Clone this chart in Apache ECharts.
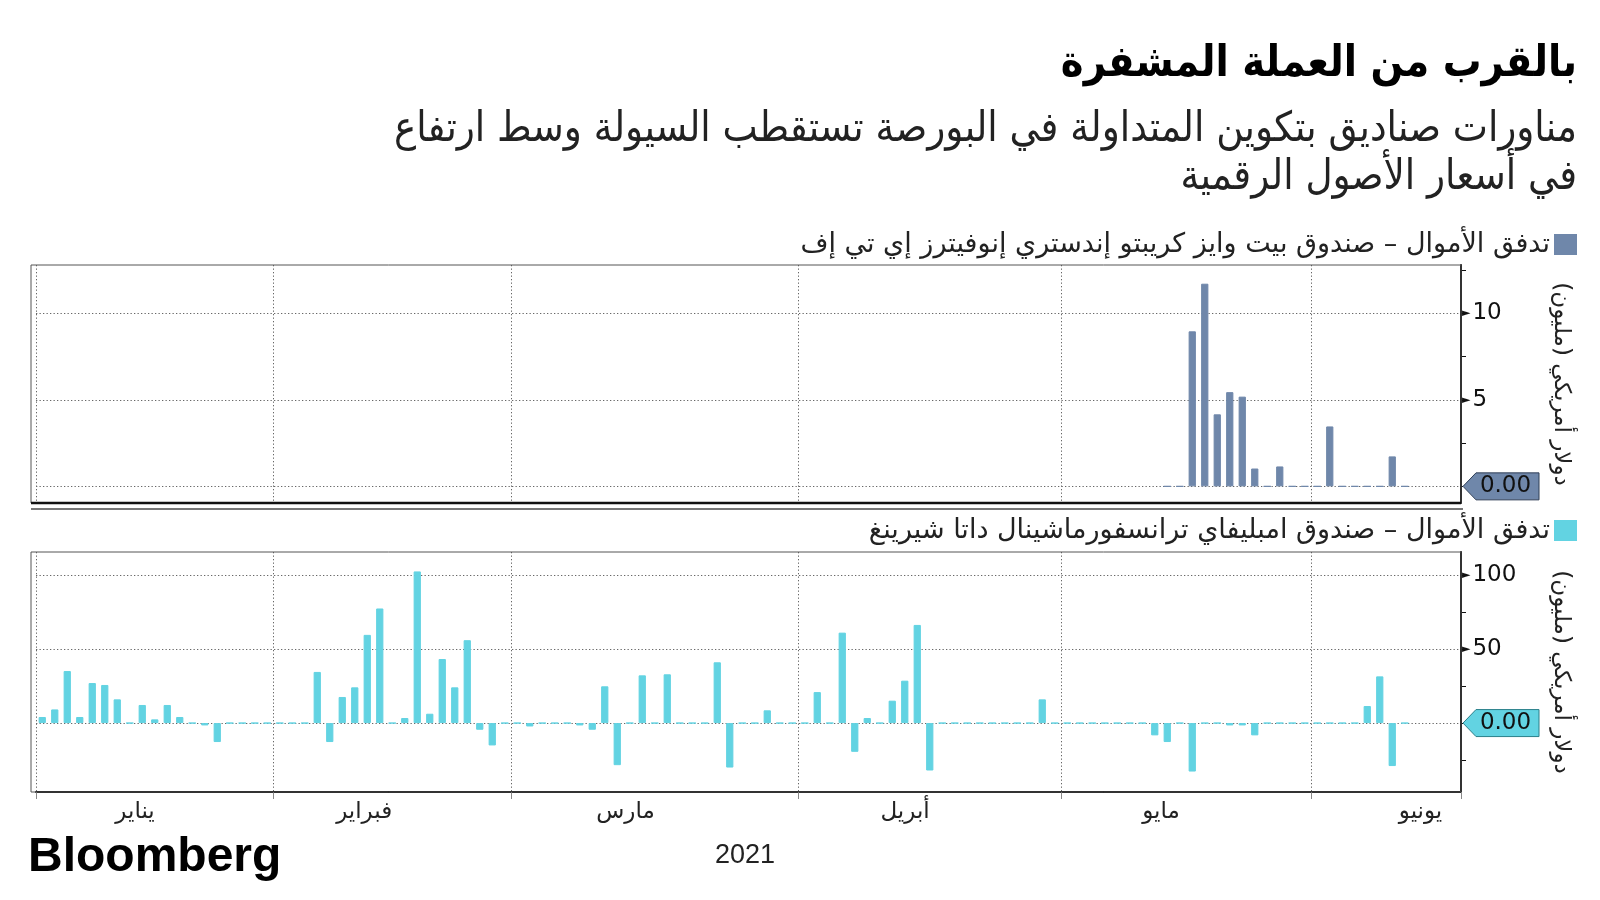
<!DOCTYPE html>
<html dir="rtl">
<head>
<meta charset="utf-8">
<script src="https://cdn.jsdelivr.net/npm/echarts@6/dist/echarts.min.js"></script>
<style>html,body{margin:0;padding:0;background:#fff}#c{width:1600px;height:900px}</style>
</head>
<body>
<div id="c"></div>
<script>
// ---------- data ----------
const year = 2021;
const janDays = [4,5,6,7,8,11,12,13,14,15,19,20,21,22,25,26,27,28,29];
const febDays = [1,2,3,4,5,8,9,10,11,12,16,17,18,19,22,23,24,25,26];
const marDays = [1,2,3,4,5,8,9,10,11,12,15,16,17,18,19,22,23,24,25,26,29,30,31];
const aprDays = [1,5,6,7,8,9,12,13,14,15,16,19,20,21,22,23,26,27,28,29,30];
const mayDays = [3,4,5,6,7,10,11,12,13,14,17,18,19,20,21,24,25,26,27,28];
const junDays = [1,2,3,4,7,8,9,10,11,14,15,16];
const monthNames = ['يناير','فبراير','مارس','أبريل','مايو','يونيو'];
const monthLabelDates = ['2021-01-15','2021-02-12','2021-03-16','2021-04-16','2021-05-14','2021-06-15'];

const titleText = 'بالقرب من العملة المشفرة';
const subLine1 = 'مناورات صناديق بتكوين المتداولة في البورصة تستقطب السيولة وسط ارتفاع';
const subLine2 = 'في أسعار الأصول الرقمية';
const topName = 'تدفق الأموال – صندوق بيت وايز كريبتو إندستري إنوفيترز إي تي إف';
const bottomName = 'تدفق الأموال – صندوق امبليفاي ترانسفورماشينال داتا شيرينغ';
const unitName = 'دولار أمريكي (مليون)';
const yearLabel = '2021';

// Bitwise Crypto Industry Innovators ETF flows (USD mn), from 2021-05-13
const bitqStart = '2021-05-13';
const bitqFlows = [0,0,8.95,11.7,4.16,5.44,5.18,1.03,0,1.15,0,0,0,3.46,0,0,0,0,1.73,0];
// Amplify Transformational Data Sharing ETF flows (USD mn), from 2021-01-04
const blokStart = '2021-01-04';
const blokFlows = [
  4.1, 9.2, 35.1, 4.1, 27, 25.7, 16, 0, 12.2, 2.5,
  12.2, 4.1, 0, -1.6, -12.8, 0, 0, 0, 0, 0,
  0, 0, 34.5, -12.8, 17.6, 24.1, 59.5, 77.3, 0, 3.4,
  102.3, 6.3, 43.2, 24.1, 55.9, -4.5, -15.1, 0, 0, -2.3,
  0, 0, 0, -1.6, -4.5, 24.8, -28.4, 0, 32.2, 0,
  32.9, 0, 0, 0, 41, -30, 0, 0, 8.6, 0,
  0, 0, 20.9, 0, 61, -19.4, 3.4, 0, 15.1, 28.6,
  66.2, -32, 0, 0, 0, 0, 0, 0, 0, 0,
  16, 0, 0, 0, 0, 0, 0, 0, 0, -8.3,
  -12.8, 0, -32.7, 0, 0, -1.6, -1.6, -8.3, 0, 0,
  0, 0, 0, 0, 0, 0, 11.5, 31.5, -29, 0
];
const topTicks = [0, 5, 10];
const topLabels = [5, 10];
const topMinor = [2.5, 7.5, 12.5];
const botTicks = [0, 50, 100];
const botLabels = [50, 100];
const botMinor = [-25, 25, 75];

// ---------- build ----------
const pad = n => (n < 10 ? '0' : '') + n;
const categories = [];
[janDays, febDays, marDays, aprDays, mayDays, junDays].forEach((days, m) => {
  days.forEach(d => categories.push(year + '-' + pad(m + 1) + '-' + pad(d)));
});
function placeSeries(start, vals) {
  const out = categories.map(() => null);
  const s = categories.indexOf(start);
  vals.forEach((v, i) => { out[s + i] = v; });
  return out;
}
const topData = placeSeries(bitqStart, bitqFlows);
const botData = placeSeries(blokStart, blokFlows);
const monthOf = v => +v.slice(5, 7);
const isMonthStart = (idx, val) => idx === 0 || monthOf(val) !== monthOf(categories[idx - 1]);

const AR = '"DejaVu Sans", sans-serif';
const TF = '"DejaVu Sans Condensed", "DejaVu Sans", sans-serif';
const TOPC = '#6F87AA', BOTC = '#62D3E2';
const G0 = { left: 36, top: 265, width: 1425, height: 238 };
const G1 = { left: 36, top: 552, width: 1425, height: 240 };
const dotted = { color: '#666', width: 1, type: [1.3, 2.2] };

function xAxisFor(gi, withLabels) {
  return {
    type: 'category', gridIndex: gi, data: categories, boundaryGap: true,
    axisLine: { show: withLabels, onZero: false, lineStyle: { color: '#111', width: 2 } },
    axisTick: { show: withLabels, interval: isMonthStart, length: 7, lineStyle: { color: '#888' } },
    axisLabel: {
      show: withLabels, interval: (i, v) => monthLabelDates.indexOf(v) >= 0,
      formatter: v => monthNames[monthOf(v) - 1], align: 'right',
      fontFamily: AR, fontSize: 23, color: '#222', margin: 9
    },
    splitLine: { show: true, interval: isMonthStart, lineStyle: dotted }
  };
}
function yMain(gi, min, max, ticks, labels) {
  return {
    type: 'value', gridIndex: gi, position: 'right', min, max,
    name: unitName, nameLocation: 'middle', nameRotate: -90, nameGap: 88,
    nameTextStyle: { fontFamily: AR, fontSize: 23, color: '#222' },
    axisLine: { show: true, onZero: false, lineStyle: { color: '#111', width: 2 } },
    axisTick: { show: true, customValues: ticks, length: 2, lineStyle: { color: '#111' } },
    axisLabel: {
      show: true, customValues: labels, margin: 1,
      formatter: v => '{t|►}{n|' + v + '}',
      rich: { t: { fontSize: 11, color: '#111', fontFamily: 'DejaVu Sans' },
              n: { fontSize: 23, color: '#111', fontFamily: 'DejaVu Sans', padding: [0, 0, 0, 2] } }
    },
    splitLine: { show: true, lineStyle: dotted }
  };
}
function yMinor(gi, min, max, ticks) {
  return {
    type: 'value', gridIndex: gi, position: 'right', min, max,
    axisLine: { show: false }, axisLabel: { show: false }, splitLine: { show: false },
    axisTick: { show: true, customValues: ticks, length: 5, lineStyle: { color: '#111' } }
  };
}

const chart = echarts.init(document.getElementById('c'), null, { renderer: 'canvas' });
chart.setOption({
  animation: false,
  backgroundColor: '#fff',
  title: [
    { text: titleText, right: 23, top: 43, padding: 0,
      textStyle: { fontFamily: TF, fontWeight: 'bold', fontSize: 43, color: '#000' } },
    { text: subLine1, right: 23, top: 109, padding: 0,
      textStyle: { fontFamily: TF, fontWeight: 'normal', fontSize: 41.5, color: '#222' } },
    { text: subLine2, right: 23, top: 157, padding: 0,
      textStyle: { fontFamily: TF, fontWeight: 'normal', fontSize: 41.5, color: '#222' } },
    { text: 'Bloomberg', left: 28, top: 834, padding: 0,
      textStyle: { fontFamily: '"Liberation Sans", Arial', fontWeight: 'bold', fontSize: 48, color: '#000' } },
    { text: yearLabel, left: 715, top: 842, padding: 0,
      textStyle: { fontFamily: '"Liberation Sans", Arial', fontWeight: 'normal', fontSize: 27, color: '#222' } }
  ],
  legend: [
    { data: [topName], right: 23, top: 231, padding: 0, icon: 'rect', itemWidth: 21, itemHeight: 19,
      align: 'right', selectedMode: false, textStyle: { fontFamily: AR, fontSize: 27, color: '#222' } },
    { data: [bottomName], right: 23, top: 517, padding: 0, icon: 'rect', itemWidth: 21, itemHeight: 19,
      align: 'right', selectedMode: false, textStyle: { fontFamily: AR, fontSize: 27, color: '#222' } }
  ],
  grid: [G0, G1],
  xAxis: [xAxisFor(0, false), xAxisFor(1, true)],
  yAxis: [
    yMain(0, -0.96, 12.78, topTicks, topLabels),
    yMinor(0, -0.96, 12.78, topMinor),
    yMain(1, -46.5, 115.4, botTicks, botLabels),
    yMinor(1, -46.5, 115.4, botMinor)
  ],
  series: [
    { name: topName, type: 'bar', xAxisIndex: 0, yAxisIndex: 0, data: topData, barWidth: '58%',
      itemStyle: { color: TOPC, borderColor: TOPC, borderWidth: 1 } },
    { name: bottomName, type: 'bar', xAxisIndex: 1, yAxisIndex: 2, data: botData, barWidth: '58%',
      itemStyle: { color: BOTC, borderColor: BOTC, borderWidth: 1 } }
  ]
});

// last-value tags and frames
function lastVal(arr) { for (let i = arr.length - 1; i >= 0; i--) if (arr[i] != null) return arr[i]; return 0; }
const xr = G0.left + G0.width, x0 = 31;
function tag(id, yAxisIndex, val, fill, stroke) {
  const y = chart.convertToPixel({ yAxisIndex }, val);
  const xa = xr + 2, xb = xr + 15, x1 = xr + 78, h = 13.5;
  return [
    { type: 'polygon', id: id + 'p', z: 100,
      shape: { points: [[xa, y], [xb, y - h], [x1, y - h], [x1, y + h], [xb, y + h]] },
      style: { fill, stroke, lineWidth: 1 } },
    { type: 'text', id: id + 't', z: 101, x: (xb + x1) / 2 - 2, y,
      style: { text: val.toFixed(2), fill: '#111', font: '23px "DejaVu Sans"', align: 'center', verticalAlign: 'middle' } }
  ];
}
chart.setOption({
  graphic: [
    { type: 'rect', id: 'f0', z: 50, shape: { x: x0, y: G0.top, width: xr - x0, height: G0.height },
      style: { fill: 'none', stroke: '#555', lineWidth: 1 } },
    { type: 'line', id: 'f0b', z: 51, shape: { x1: x0, y1: G0.top + G0.height, x2: xr, y2: G0.top + G0.height },
      style: { stroke: '#111', lineWidth: 2.5 } },
    { type: 'line', id: 'div', z: 51, shape: { x1: x0, y1: G0.top + G0.height + 6, x2: xr + 2, y2: G0.top + G0.height + 6 },
      style: { stroke: '#777', lineWidth: 2 } },
    { type: 'rect', id: 'f1', z: 50, shape: { x: x0, y: G1.top, width: xr - x0, height: G1.height },
      style: { fill: 'none', stroke: '#555', lineWidth: 1 } }
  ].concat(tag('tg0', 0, lastVal(topData), TOPC, '#2f3f57'), tag('tg1', 2, lastVal(botData), BOTC, '#2a7f8a'))
});
</script>
</body>
</html>
